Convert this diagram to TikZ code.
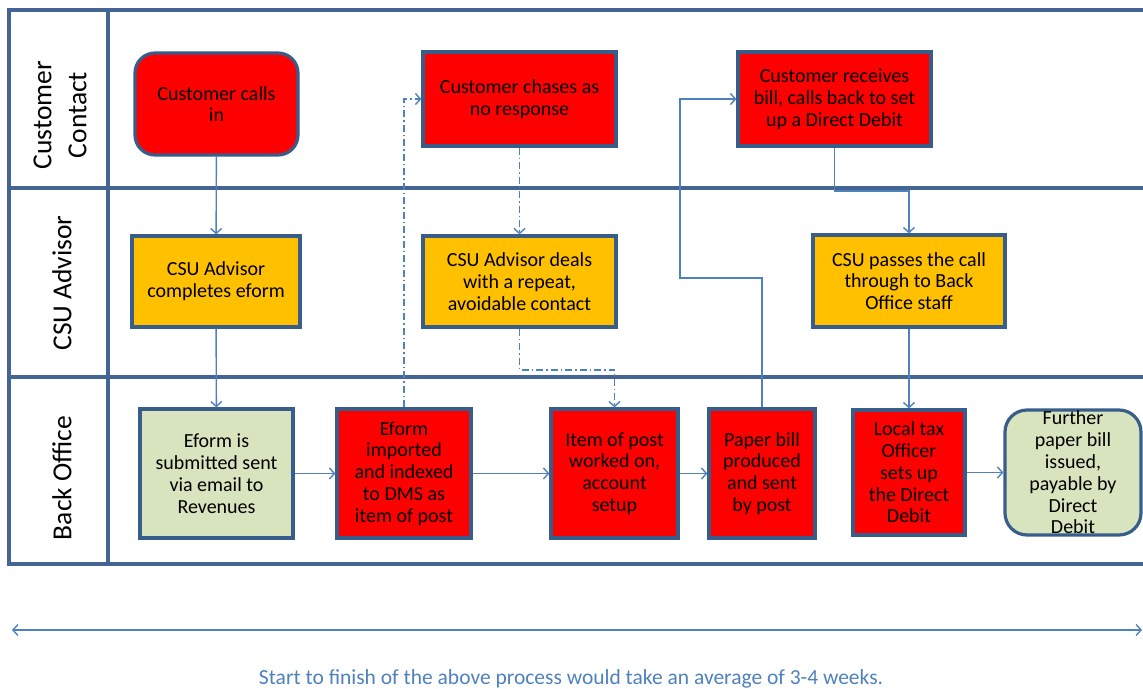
\documentclass[tikz,border=0pt]{standalone}
\usepackage{fontspec}
\setmainfont{Carlito}
\usetikzlibrary{positioning,arrows.meta}
\definecolor{lanecol}{RGB}{68,100,148}
\definecolor{boxline}{RGB}{56,93,138}
\definecolor{flowcol}{RGB}{79,129,189}
\definecolor{redbox}{RGB}{255,0,0}
\definecolor{amberbox}{RGB}{255,192,0}
\definecolor{greenbox}{RGB}{215,228,189}

\begin{document}
\begin{tikzpicture}[x=1pt,y=-1pt]
\tikzstyle{lane} = [draw=lanecol, line width=3.2pt]
\tikzstyle{lanelabel} = [rotate=90, align=center, font=\fontsize{27.5}{35}\selectfont]
\tikzstyle{task} = [draw=boxline, line width=3.2pt, align=center, inner sep=0pt, font=\fontsize{20}{21.8}\selectfont]
\tikzstyle{flow} = [draw=flowcol, line width=1.4pt, -{Straight Barb[length=5pt,width=11pt]}]
\tikzstyle{repeatflow} = [flow, dash pattern=on 7pt off 3pt on 1.5pt off 3pt]

\useasboundingbox (0,0) rectangle (1143,688);

% lanes
\draw[lane] (1143,10) -- (9,10) -- (9,564) -- (1143,564);
\draw[lane] (9,188) -- (1143,188);
\draw[lane] (9,377) -- (1143,377);
\draw[lane] (108,10) -- (108,564);

\node[lanelabel] (L1) at (60,115) {Customer\\Contact};
\node[lanelabel] (L2) at (62,283) {CSU Advisor};
\node[lanelabel] (L3) at (62,478) {Back Office};

% customer contact
\node[task, fill=redbox, rounded corners=20pt, minimum width=163pt, minimum height=102pt] (call) at (216.5,104) {Customer calls\\in};
\node[task, fill=redbox, minimum width=193pt, minimum height=94pt] (chase) at (519.5,99) {Customer chases as\\no response};
\node[task, fill=redbox, minimum width=193pt, minimum height=94pt] (receive) at (834.5,99) {Customer receives\\bill, calls back to set\\up a Direct Debit};

% csu advisor
\node[task, fill=amberbox, minimum width=168pt, minimum height=91pt] (complete) at (216,281.5) {CSU Advisor\\completes eform};
\node[task, fill=amberbox, minimum width=193pt, minimum height=91pt] (repeat) at (519.5,281.5) {CSU Advisor deals\\with a repeat,\\avoidable contact};
\node[task, fill=amberbox, minimum width=192pt, minimum height=92pt] (pass) at (909,281) {CSU passes the call\\through to Back\\Office staff};

% back office
\node[task, fill=greenbox, minimum width=153pt, minimum height=129pt] (submit) at (216.5,473.5) {Eform is\\submitted sent\\via email to\\Revenues};
\node[task, fill=redbox, minimum width=134pt, minimum height=129pt] (import) at (404,473.5) {Eform\\imported\\and indexed\\to DMS as\\item of post};
\node[task, fill=redbox, minimum width=127pt, minimum height=129pt] (work) at (614.5,473.5) {Item of post\\worked on,\\account\\setup};
\node[task, fill=redbox, minimum width=106pt, minimum height=129pt] (bill) at (762,473.5) {Paper bill\\produced\\and sent\\by post};
\node[task, fill=redbox, minimum width=112pt, minimum height=125pt] (officer) at (909,472.5) {Local tax\\Officer\\sets up\\the Direct\\Debit};
\node[task, fill=greenbox, rounded corners=22pt, minimum width=136pt, minimum height=125pt] (further) at (1073,472.5) {Further\\paper bill\\issued,\\payable by\\Direct\\Debit};

\coordinate (k1) at (519.5,370);
\coordinate (k2) at (680,278);
\coordinate (k3) at (834.5,191);

\draw[flow] (call) -- (complete);
\draw[flow] (complete) -- (submit);
\draw[flow] (submit) -- (import);
\draw[flow] (import) -- (work);
\draw[flow] (work) -- (bill);
\draw[flow] (officer) -- (further);
\draw[repeatflow] (import.north) |- (chase.west);
\draw[repeatflow] (chase) -- (repeat);
\draw[repeatflow] (repeat.south) -- (k1) -| (work.north);
\draw[flow] (bill.north) |- (k2) |- (receive.west);
\draw[flow] (receive.south) -- (k3) -| (pass.north);
\draw[flow] (pass) -- (officer);

% overall time
\coordinate (t1) at (12,630);
\coordinate (t2) at (1142,630);
\draw[flow, {Straight Barb[length=5pt,width=11pt]}-{Straight Barb[length=5pt,width=11pt]}] (t1) -- (t2);
\node[text=flowcol, font=\fontsize{21.5}{24}\selectfont, anchor=base] (note) at (571,684) {Start to finish of the above process would take an average of 3-4 weeks.};
\end{tikzpicture}
\end{document}
